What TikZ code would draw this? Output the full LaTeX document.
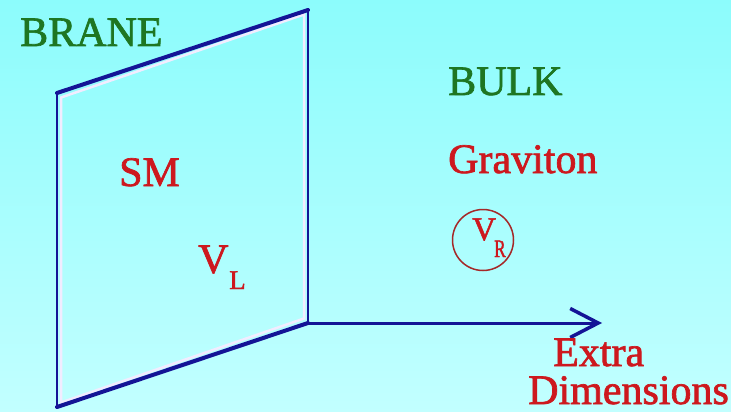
\documentclass[tikz,border=0pt]{standalone}
\usepackage{fontspec}
\setmainfont{Liberation Serif}
\newfontfamily\heavyserif[FakeBold=1.6]{Liberation Serif}
\usepackage{tikz}
\usetikzlibrary{positioning, arrows.meta, calc}

\definecolor{bgtop}{RGB}{140,252,252}
\definecolor{bgbot}{RGB}{194,255,255}
\definecolor{branenavy}{RGB}{20,20,150}
\definecolor{branelav}{RGB}{242,236,255}
\definecolor{labgreen}{RGB}{30,118,34}
\definecolor{labred}{RGB}{205,24,30}
\definecolor{ringred}{RGB}{165,40,40}

\begin{document}
\begin{tikzpicture}[
            x=1pt, y=-1pt,
            lbl/.style={font=\fontsize{42}{44}\selectfont\heavyserif, inner sep=0pt, anchor=base west},
            sublbl/.style={font=\fontsize{27}{29}\selectfont\heavyserif, inner sep=0pt, anchor=base west},
            edge/.style={draw=branenavy, line width=3.5pt, line cap=round},
            rim/.style={draw=branelav, line width=2.5pt},
            ring/.style={draw=ringred, line width=1.5pt, circle, minimum size=61pt, inner sep=0pt}
        ]

        % Hintergrund
        \useasboundingbox (0,0) rectangle (731,412);
        \shade[top color=bgtop, bottom color=bgbot] (0,0) rectangle (731,412);

        % Brane
        \coordinate (tl) at (57,93);
        \coordinate (tr) at (308,10);
        \coordinate (br) at (308,323);
        \coordinate (bl) at (57,407);
        \coordinate (tip) at (602,323);

        \draw[rim] ($(tl)+(4,4.5)$) -- ($(tr)+(-4,4.5)$) -- ($(br)+(-4,-4.5)$) -- ($(bl)+(4,-4.5)$) -- cycle;
        \draw[edge, line width=4pt] (tl) -- (tr);
        \draw[edge, line width=4pt] (bl) -- (br);
        \draw[edge, line width=2.5pt] (tl) -- (bl);
        \draw[edge, line width=2.5pt] (tr) -- (br);

        % Pfeil
        \draw[edge, line width=3pt, -{Straight Barb[length=28pt, width=29pt, line width=3.5pt]}] (br) -- (tip);

        % Texte
        \node[lbl, text=labgreen] (brane) at (20,46) {BRANE};
        \node[lbl, text=labgreen] (bulk) at (448,95) {BULK};
        \node[lbl, text=labred] (graviton) at (448,173) {Graviton};
        \node[lbl, text=labred] (sm) at (119,186) {SM};
        \node[lbl, text=labred] (vl) at (198,273) {V};
        \node[sublbl, text=labred] (vlsub) at (229,289) {L};
        \node[lbl, text=labred] (extra) at (553,366) {Extra};
        \node[lbl, text=labred] (dims) at (528,404) {Dimensions};

        % Neutrino rechts
        \node[ring] (nur) at (483,240) {};
        \node[lbl, text=labred, font=\fontsize{33}{35}\selectfont\heavyserif] (vr) at (472,240) {V};
        \node[sublbl, text=labred, font=\fontsize{25}{27}\selectfont\heavyserif, xscale=0.7] (vrsub) at (494,257) {R};

    \end{tikzpicture}
\end{document}
